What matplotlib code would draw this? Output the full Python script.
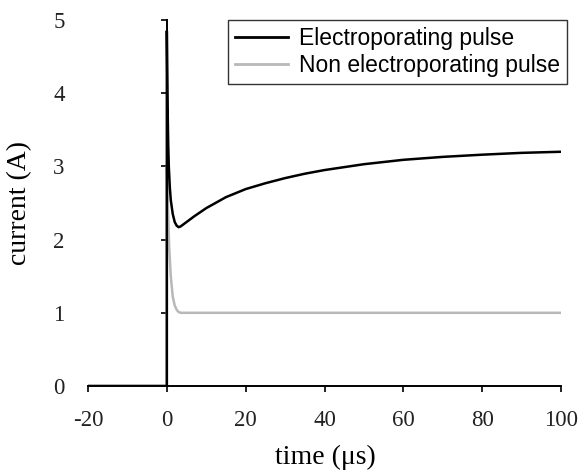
import matplotlib.pyplot as plt

# time (us) and current (A)
t_electro = [-20, 0, 0, 0.1, 0.2, 0.35, 0.5, 0.75, 1.0, 1.5, 2.0, 2.5, 3.0, 3.5, 4.0, 5.0, 7.0,
             10, 15, 20, 25, 30, 35, 40, 50, 60, 70, 80, 90, 100]
i_electro = [0, 0, 4.85, 4.3, 3.8, 3.3, 3.0, 2.72, 2.54, 2.35, 2.24, 2.19, 2.17, 2.18, 2.20, 2.24, 2.32,
             2.43, 2.58, 2.69, 2.77, 2.84, 2.90, 2.95, 3.03, 3.09, 3.13, 3.16, 3.185, 3.20]

t_non = [-20, 0, 0, 0.3, 0.6, 1.0, 1.5, 2.0, 2.5, 3.0, 3.6, 5, 100]
i_non = [0, 0, 3.0, 2.4, 1.9, 1.5, 1.22, 1.1, 1.04, 1.01, 1.0, 1.0, 1.0]

x_ticks = [-20, 0, 20, 40, 60, 80, 100]
y_ticks = [0, 1, 2, 3, 4, 5]

plt.rcParams['font.family'] = 'Liberation Serif'
plt.rcParams['axes.unicode_minus'] = False

fig = plt.figure(figsize=(5.81, 4.71), dpi=100)
ax = fig.add_axes([88/581, 85/471, 473/581, 366/471])

ax.plot(t_non, i_non, color='#b8b8b8', lw=1.8, label='Non electroporating pulse')
ax.plot(t_electro, i_electro, color='black', lw=1.8, label='Electroporating pulse')

ax.set_xlim(-20, 100)
ax.set_ylim(0, 5)
ax.set_xticks(x_ticks)
ax.set_yticks(y_ticks)

ax.spines['top'].set_visible(False)
ax.spines['right'].set_visible(False)
ax.spines['left'].set_position(('data', 0))
for s in ['left', 'bottom']:
    ax.spines[s].set_linewidth(1.4)

ax.tick_params(axis='both', direction='out', length=4.5, width=1.4, labelsize=16.5, colors='#222222')
ax.tick_params(axis='y', pad=69)
ax.tick_params(axis='x', pad=13)

ax.set_xlabel('time (\u03bcs)', fontsize=20, va='center')
ax.set_ylabel('current (A)', fontsize=20, va='center')
ax.xaxis.set_label_coords(325/581, 1 - 457/471, transform=fig.transFigure)
ax.yaxis.set_label_coords(20/581, 1 - 203/471, transform=fig.transFigure)

handles, labels = ax.get_legend_handles_labels()
leg = ax.legend(handles[::-1], labels[::-1], loc='upper right',
                bbox_to_anchor=(567/581, 1 - 20/471), bbox_transform=fig.transFigure,
                prop={'family': 'Liberation Sans', 'size': 16.5}, frameon=True, fancybox=False,
                edgecolor='black', handlelength=2.3, handletextpad=0.5, labelspacing=0.18,
                borderpad=0.3, borderaxespad=0)
leg.get_frame().set_linewidth(1.0)
for line in leg.get_lines():
    line.set_linewidth(2.0)

fig.savefig('out.png', dpi=100)
